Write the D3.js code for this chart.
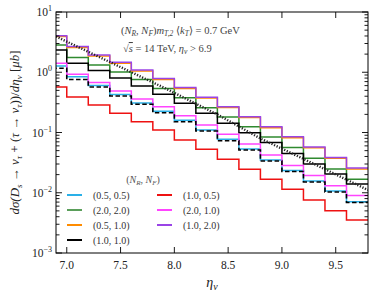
<!DOCTYPE html>
<html>
<head>
<meta charset="utf-8">
<script src="https://d3js.org/d3.v7.min.js"></script>
<style>
    body { margin: 0; padding: 0; background: #fff; }
    svg text { font-family: "Liberation Serif", "DejaVu Serif", serif; }
</style>
</head>
<body>
<div id="chart"></div>
<script>
// Bin left edges (eta), last bin ends at 9.8
const binEdges = [6.8, 7.0, 7.2, 7.4, 7.6, 7.8, 8.0, 8.2, 8.4, 8.6, 8.8, 9.0, 9.2, 9.4, 9.6];
const lastEdge = 9.8;

// d sigma / d eta per bin, micro-barn
const s05_05 = [1.270, 0.844, 0.603, 0.427, 0.309, 0.225, 0.1594, 0.1100, 0.0771, 0.0532, 0.0350, 0.0234, 0.01567, 0.0107, 0.0071];
const s20_20 = [2.834, 1.757, 1.319, 1.010, 0.758, 0.537, 0.378, 0.258, 0.181, 0.1248, 0.0842, 0.0564, 0.0373, 0.0248, 0.0167];
const s05_10 = [3.92, 2.575, 1.861, 1.408, 1.049, 0.758, 0.537, 0.374, 0.260, 0.1774, 0.1201, 0.0820, 0.0559, 0.0373, 0.0248];
const s10_10 = [2.341, 1.408, 1.069, 0.803, 0.591, 0.431, 0.305, 0.208, 0.1421, 0.0992, 0.0682, 0.0448, 0.0300, 0.0205, 0.01397];
const s10_05 = [0.569, 0.388, 0.286, 0.208, 0.1511, 0.1100, 0.0751, 0.0526, 0.0359, 0.0245, 0.0167, 0.01141, 0.00758, 0.00504, 0.00353];
const s20_10 = [1.408, 0.925, 0.676, 0.488, 0.360, 0.268, 0.190, 0.1332, 0.0934, 0.0644, 0.0423, 0.0283, 0.0193, 0.01309, 0.0090];
const s10_20 = [4.04, 2.676, 1.933, 1.463, 1.090, 0.788, 0.558, 0.384, 0.268, 0.183, 0.1248, 0.0852, 0.0574, 0.0385, 0.0258];
// unlabelled dashed reference histogram
const sDashed = [1.163, 0.758, 0.569, 0.403, 0.294, 0.213, 0.1511, 0.1059, 0.0731, 0.0512, 0.0337, 0.0225, 0.01508, 0.01029, 0.00689];
// unlabelled dotted curve
const dottedEta = [6.9, 7.4, 7.9, 8.4, 8.8, 9.3, 9.8];
const dottedVal = [3.92, 1.480, 0.558, 0.199, 0.0795, 0.0300, 0.0111];

const seriesLabels = ["(0.5, 0.5)", "(2.0, 2.0)", "(0.5, 1.0)", "(1.0, 1.0)", "(1.0, 0.5)", "(2.0, 1.0)", "(1.0, 2.0)"];
const seriesColors = ["#2ab0e8", "#2f8a2f", "#ff8c00", "#000000", "#ee1111", "#ff44ff", "#9a44e6"];
const legendColors = ["#2ab0e8", "#5a9e5a", "#ff8c00", "#000000", "#ee1111", "#ff44ff", "#9a44e6"];
const seriesValues = [s05_05, s20_20, s05_10, s10_10, s10_05, s20_10, s10_20];

const xTicks = [7.0, 7.5, 8.0, 8.5, 9.0, 9.5];
const yTickExp = [1, 0, -1, -2, -3];

const W = 374, H = 296;
const margin = { left: 56, right: 6, top: 12, bottom: 43 };

const svg = d3.select("#chart").append("svg")
    .attr("width", W)
    .attr("height", H);

const x = d3.scaleLinear().domain([6.9, 9.8]).range([margin.left, W - margin.right]);
const y = d3.scaleLog().domain([1e-3, 10]).range([H - margin.bottom, margin.top]);

svg.append("clipPath").attr("id", "clip")
    .append("rect")
    .attr("x", margin.left).attr("y", margin.top)
    .attr("width", W - margin.left - margin.right)
    .attr("height", H - margin.top - margin.bottom);

const plot = svg.append("g").attr("clip-path", "url(#clip)");

const stepLine = d3.line()
    .x(d => x(d[0]))
    .y(d => y(d[1]))
    .curve(d3.curveStepAfter);

function stepPoints(vals) {
    const pts = binEdges.map((e, i) => [e, vals[i]]);
    pts.push([lastEdge, vals[vals.length - 1]]);
    return pts;
}

seriesValues.forEach((vals, i) => {
    plot.append("path")
        .attr("d", stepLine(stepPoints(vals)))
        .attr("fill", "none")
        .attr("stroke", seriesColors[i])
        .attr("stroke-width", 1.5);
});

plot.append("path")
    .attr("d", stepLine(stepPoints(sDashed)))
    .attr("fill", "none")
    .attr("stroke", "#000")
    .attr("stroke-width", 1.6)
    .attr("stroke-dasharray", "4.5,2.5");

plot.append("path")
    .attr("d", d3.line().x((d, i) => x(dottedEta[i])).y(d => y(d))(dottedVal))
    .attr("fill", "none")
    .attr("stroke", "#222")
    .attr("stroke-width", 2.4)
    .attr("stroke-dasharray", "1.2,1.6");

// axes frame
const x0 = margin.left, x1 = W - margin.right, y0 = margin.top, y1 = H - margin.bottom;
svg.append("rect")
    .attr("x", x0).attr("y", y0)
    .attr("width", x1 - x0).attr("height", y1 - y0)
    .attr("fill", "none").attr("stroke", "#000").attr("stroke-width", 1);

const ticks = svg.append("g").attr("stroke", "#000").attr("stroke-width", 0.9);

// x ticks, inward on bottom and top
xTicks.forEach(t => {
    ticks.append("line").attr("x1", x(t)).attr("x2", x(t)).attr("y1", y1).attr("y2", y1 - 6);
    ticks.append("line").attr("x1", x(t)).attr("x2", x(t)).attr("y1", y0).attr("y2", y0 + 6);
    svg.append("text")
        .attr("x", x(t)).attr("y", y1 + 16)
        .attr("text-anchor", "middle")
        .attr("font-size", 11.5)
        .attr("fill", "#222")
        .text(t.toFixed(1));
});

// y ticks major + minor
yTickExp.forEach(e => {
    const v = Math.pow(10, e);
    ticks.append("line").attr("x1", x0).attr("x2", x0 + 6).attr("y1", y(v)).attr("y2", y(v));
    ticks.append("line").attr("x1", x1).attr("x2", x1 - 6).attr("y1", y(v)).attr("y2", y(v));
    const lab = svg.append("text")
        .attr("x", x0 - 4).attr("y", y(v) + 4)
        .attr("text-anchor", "end")
        .attr("font-size", 11.5)
        .attr("fill", "#222");
    lab.append("tspan").text("10");
    lab.append("tspan").attr("dy", -5).attr("font-size", 8).text(e < 0 ? "\u2212" + Math.abs(e) : String(e));
    if (e > -3) return;
});
[-3, -2, -1, 0].forEach(e => {
    for (let m = 2; m <= 9; m++) {
        const v = m * Math.pow(10, e);
        ticks.append("line").attr("x1", x0).attr("x2", x0 + 3.5).attr("y1", y(v)).attr("y2", y(v));
        ticks.append("line").attr("x1", x1).attr("x2", x1 - 3.5).attr("y1", y(v)).attr("y2", y(v));
    }
});

// x label
const xl = svg.append("text")
    .attr("x", (x0 + x1) / 2).attr("y", H - 9)
    .attr("text-anchor", "middle")
    .attr("font-size", 14)
    .attr("font-style", "italic")
    .attr("fill", "#222");
xl.append("tspan").text("\u03b7");
xl.append("tspan").attr("dy", 3).attr("font-size", 10).text("\u03bd");

// y label
const yl = svg.append("text")
    .attr("transform", `translate(19,${(y0 + y1) / 2}) rotate(-90)`)
    .attr("text-anchor", "middle")
    .attr("font-size", 13)
    .attr("font-style", "italic")
    .attr("fill", "#222");
yl.append("tspan").text("d\u03c3(D");
yl.append("tspan").attr("dy", 3).attr("font-size", 9).text("s");
yl.append("tspan").attr("dy", -3).attr("font-style", "normal").text(" \u2192 ");
yl.append("tspan").text("\u03bd");
yl.append("tspan").attr("dy", 3).attr("font-size", 9).text("\u03c4");
yl.append("tspan").attr("dy", -3).attr("font-style", "normal").text(" + (");
yl.append("tspan").text("\u03c4");
yl.append("tspan").attr("font-style", "normal").text(" \u2192 ");
yl.append("tspan").text("\u03bd");
yl.append("tspan").attr("dy", 3).attr("font-size", 9).text("\u03c4");
yl.append("tspan").attr("dy", -3).attr("font-style", "normal").text("))/");
yl.append("tspan").text("d\u03b7");
yl.append("tspan").attr("dy", 3).attr("font-size", 9).text("\u03bd");
yl.append("tspan").attr("dy", -3).attr("font-style", "normal").text(" [");
yl.append("tspan").text("\u03bcb");
yl.append("tspan").attr("font-style", "normal").text("]");

// annotation lines
const a1 = svg.append("text").attr("x", 121).attr("y", 34).attr("font-size", 10.5).attr("fill", "#444");
a1.append("tspan").text("(");
a1.append("tspan").attr("font-style", "italic").text("N");
a1.append("tspan").attr("dy", 2).attr("font-size", 7.5).attr("font-style", "italic").text("R");
a1.append("tspan").attr("dy", -2).text(", ");
a1.append("tspan").attr("font-style", "italic").text("N");
a1.append("tspan").attr("dy", 2).attr("font-size", 7.5).attr("font-style", "italic").text("F");
a1.append("tspan").attr("dy", -2).text(")");
a1.append("tspan").attr("font-style", "italic").text("m");
a1.append("tspan").attr("dy", 2).attr("font-size", 7.5).attr("font-style", "italic").text("T,2");
a1.append("tspan").attr("dy", -2).text("  \u27e8");
a1.append("tspan").attr("font-style", "italic").text("k");
a1.append("tspan").attr("dy", 2).attr("font-size", 7.5).attr("font-style", "italic").text("T");
a1.append("tspan").attr("dy", -2).text("\u27e9 = 0.7 GeV");

const a2 = svg.append("text").attr("x", 123).attr("y", 52).attr("font-size", 10.5).attr("fill", "#444");
a2.append("tspan").text("\u221a");
a2.append("tspan").attr("font-style", "italic").attr("text-decoration", "overline").text("s");
a2.append("tspan").text(" = 14 TeV, ");
a2.append("tspan").attr("font-style", "italic").text("\u03b7");
a2.append("tspan").attr("dy", 2).attr("font-size", 7.5).attr("font-style", "italic").text("\u03bd");
a2.append("tspan").attr("dy", -2).text(" > 6.9");

// legend
const lt = svg.append("text").attr("x", 143).attr("y", 183)
    .attr("text-anchor", "middle").attr("font-size", 10).attr("fill", "#555");
lt.append("tspan").text("(");
lt.append("tspan").attr("font-style", "italic").text("N");
lt.append("tspan").attr("dy", 2).attr("font-size", 7).attr("font-style", "italic").text("R");
lt.append("tspan").attr("dy", -2).text(", ");
lt.append("tspan").attr("font-style", "italic").text("N");
lt.append("tspan").attr("dy", 2).attr("font-size", 7).attr("font-style", "italic").text("F");
lt.append("tspan").attr("dy", -2).text(")");

const legCols = [[0, 1, 2, 3], [4, 5, 6]];
const legX = [67, 157];
const legY0 = 195, legDy = 15;
legCols.forEach((col, c) => {
    col.forEach((idx, r) => {
        const yy = legY0 + r * legDy;
        svg.append("line")
            .attr("x1", legX[c]).attr("x2", legX[c] + 15)
            .attr("y1", yy).attr("y2", yy)
            .attr("stroke", legendColors[idx]).attr("stroke-width", 2);
        svg.append("text")
            .attr("x", legX[c] + 26).attr("y", yy + 3.5)
            .attr("font-size", 10).attr("fill", "#333")
            .text(seriesLabels[idx]);
    });
});
</script>
</body>
</html>
